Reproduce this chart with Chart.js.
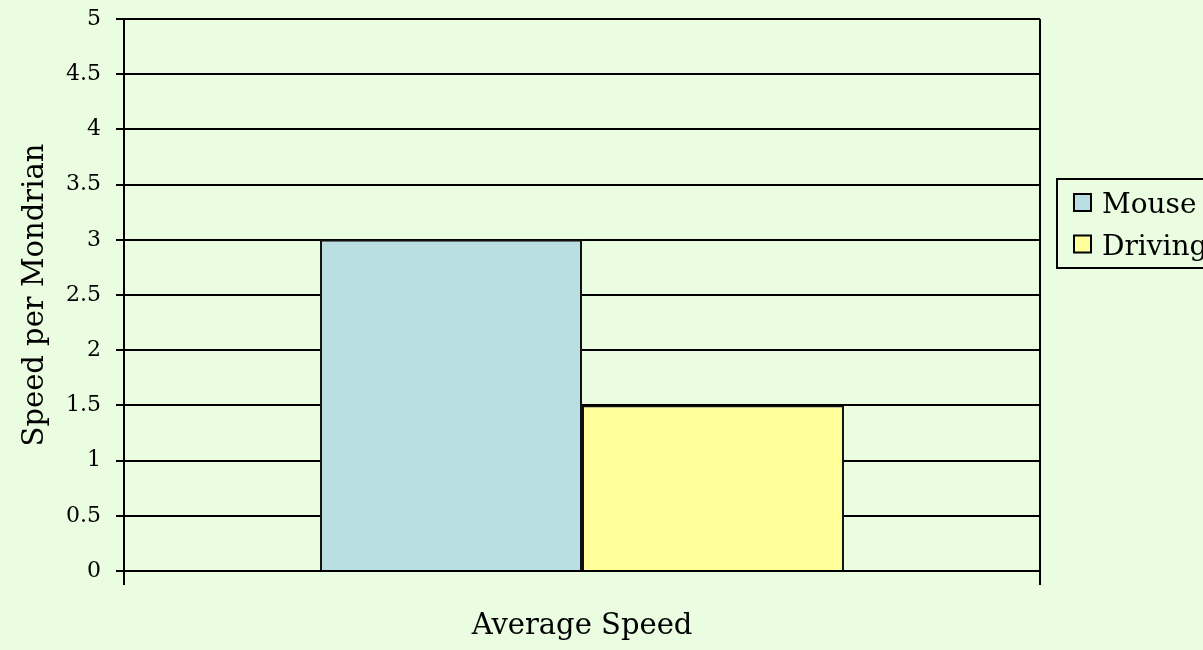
<!DOCTYPE html>
<html>
<head>
<meta charset="utf-8">
<script src="https://cdn.jsdelivr.net/npm/chart.js@4/dist/chart.umd.min.js"></script>
<style>
  html, body { margin: 0; padding: 0; background: #ebfde1; }
  #wrap { width: 1203px; height: 650px; }
</style>
</head>
<body>
<div id="wrap"><canvas id="c" width="1203" height="650"></canvas></div>
<script>
'use strict';

// ── Data ──────────────────────────────────────────────
const categories  = ['Average Speed'];
const seriesNames = ['Mouse', 'Driving'];
const mouseValues   = [3];
const drivingValues = [1.5];
const yTicks = [0, 0.5, 1, 1.5, 2, 2.5, 3, 3.5, 4, 4.5, 5];

const FONT = "'DejaVu Serif', 'Liberation Serif', serif";
const colors = ['#b9dfe3', '#ffff99'];

// Legend box drawn by hand, Excel style
const boxLegend = {
  id: 'boxLegend',
  afterDraw(chart) {
    const ctx = chart.ctx;
    const x0 = 1057, y0 = 179, w = 170, h = 89;
    ctx.save();
    ctx.strokeStyle = '#000';
    ctx.lineWidth = 2;
    ctx.strokeRect(x0, y0, w, h);
    ctx.font = '28px ' + FONT;
    ctx.textBaseline = 'alphabetic';
    chart.data.datasets.forEach((ds, i) => {
      const cy = 203 + i * 41.5;
      ctx.fillStyle = ds.backgroundColor;
      ctx.fillRect(1074, cy - 9, 17, 17);
      ctx.lineWidth = 2;
      ctx.strokeRect(1074, cy - 9, 17, 17);
      ctx.fillStyle = '#000';
      ctx.fillText(ds.label, 1102, cy + 10);
    });
    ctx.restore();
  }
};

new Chart(document.getElementById('c'), {
  type: 'bar',
  data: {
    labels: categories,
    datasets: [
      { label: seriesNames[0], data: mouseValues,   backgroundColor: colors[0], borderColor: '#111', borderWidth: 2 },
      { label: seriesNames[1], data: drivingValues, backgroundColor: colors[1], borderColor: '#111', borderWidth: 2 },
    ]
  },
  plugins: [boxLegend],
  options: {
    responsive: false,
    animation: false,
    devicePixelRatio: 1,
    layout: { padding: { left: 0, top: 19, right: 163, bottom: 0 } },
    datasets: { bar: { categoryPercentage: 0.572, barPercentage: 1 } },
    plugins: { legend: { display: false }, tooltip: { enabled: false } },
    scales: {
      x: {
        ticks: { display: false },
        grid: { color: '#000', lineWidth: 2, tickLength: 14, offset: true },
        border: { color: '#000', width: 2 },
        title: { display: true, text: 'Average Speed', color: '#000', font: { family: FONT, size: 29 }, padding: { top: 0, bottom: 6 } },
        afterFit: s => { s.height = 79; }
      },
      y: {
        min: 0, max: 5,
        afterBuildTicks: s => { s.ticks = yTicks.map(v => ({ value: v })); },
        ticks: { color: '#000', font: { family: FONT, size: 22 }, padding: 15, callback: v => String(v) },
        grid: { color: '#000', lineWidth: 2, tickLength: 8 },
        border: { color: '#000', width: 2 },
        title: { display: true, text: 'Speed per Mondrian', color: '#000', font: { family: FONT, size: 29 }, padding: { top: 18, bottom: 0 } },
        afterFit: s => { s.width = 124; s.paddingTop = 0; s.paddingBottom = 0; }
      }
    }
  }
});
</script>
</body>
</html>
